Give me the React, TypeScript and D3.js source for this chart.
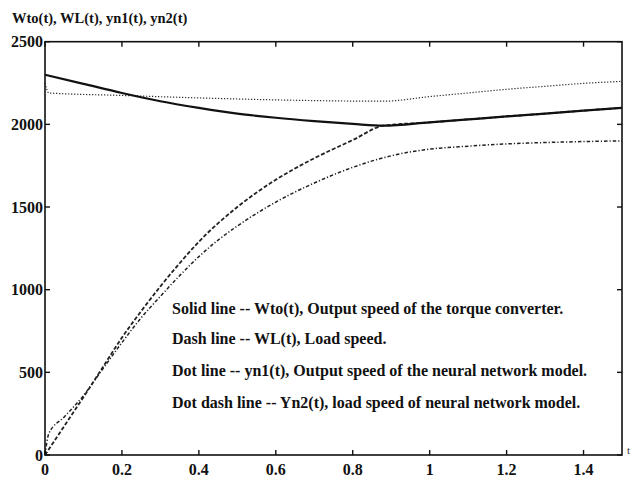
import React from "react";
import * as d3 from "d3";

const W = 632;
const H = 480;

const titleText = "Wto(t), WL(t), yn1(t), yn2(t)";
const xTicks = [0, 0.2, 0.4, 0.6, 0.8, 1, 1.2, 1.4];
const xTickLabels = ["0", "0.2", "0.4", "0.6", "0.8", "1", "1.2", "1.4"];
const yTicks = [0, 500, 1000, 1500, 2000, 2500];
const yTickLabels = ["0", "500", "1000", "1500", "2000", "2500"];

// Solid line: Wto(t)
const tWto = [0, 0.1, 0.2, 0.3, 0.4, 0.5, 0.6, 0.7, 0.8, 0.88, 1.0, 1.1, 1.2, 1.3, 1.4, 1.5];
const wto = [2300, 2245, 2190, 2140, 2100, 2065, 2040, 2020, 2003, 1992, 2012, 2030, 2048, 2065, 2083, 2100];

// Dash line: WL(t)
const tWL = [0, 0.05, 0.1, 0.15, 0.2, 0.25, 0.3, 0.35, 0.4, 0.5, 0.6, 0.7, 0.8, 0.88, 1.0, 1.1, 1.2, 1.3, 1.4, 1.5];
const wl = [0, 175, 350, 530, 710, 870, 1020, 1160, 1290, 1500, 1665, 1795, 1905, 1992, 2012, 2030, 2048, 2065, 2083, 2100];

// Dot line: yn1(t)
const tYn1 = [0, 0.01, 0.2, 0.4, 0.6, 0.88, 1.0, 1.1, 1.2, 1.3, 1.4, 1.5];
const yn1 = [2250, 2190, 2175, 2160, 2148, 2140, 2168, 2190, 2212, 2230, 2248, 2260];

// Dot dash line: yn2(t)
const tYn2 = [0, 0.01, 0.05, 0.1, 0.15, 0.2, 0.25, 0.3, 0.35, 0.4, 0.45, 0.5, 0.6, 0.7, 0.8, 0.9, 1.0, 1.1, 1.2, 1.3, 1.4, 1.5];
const yn2 = [0, 130, 230, 360, 520, 680, 830, 960, 1085, 1200, 1300, 1385, 1530, 1645, 1740, 1810, 1850, 1868, 1882, 1890, 1896, 1900];

const legendLines = [
  "Solid line -- Wto(t), Output speed of the torque converter.",
  "Dash line -- WL(t), Load speed.",
  "Dot line -- yn1(t), Output speed of the neural network model.",
  "Dot dash line -- Yn2(t), load speed of neural network model.",
];

export default function App() {
  const left = 45, right = 622, top = 41.7, bottom = 455;
  const x = d3.scaleLinear().domain([0, 1.5]).range([left, right]);
  const y = d3.scaleLinear().domain([0, 2500]).range([bottom, top]);

  const mk = (ts: number[], vs: number[]) =>
    d3
      .line<number>()
      .x((_, i) => x(ts[i]))
      .y((v) => y(v))
      .curve(d3.curveMonotoneX)(vs) as string;

  const ff = "Liberation Serif, Times New Roman, serif";
  const tickLen = 5;

  return (
    <svg
      width={W}
      height={H}
      style={{ position: "absolute", left: 0, top: 0, background: "#fff", fontFamily: ff }}
    >
      <rect x={0} y={0} width={W} height={H} fill="#fff" />
      <text x={12} y={23} fontSize={14.5} fontWeight="bold" fill="#111" style={{ fontFamily: ff }}>
        {titleText}
      </text>

      {/* series */}
      <path d={mk(tYn1, yn1)} fill="none" stroke="#333" strokeWidth={1.2} strokeDasharray="1.3,1.7" />
      <path d={mk(tYn2, yn2)} fill="none" stroke="#222" strokeWidth={1.5} strokeDasharray="3.5,2,1.2,2" />
      <path d={mk(tWL, wl)} fill="none" stroke="#222" strokeWidth={1.8} strokeDasharray="4,2" />
      <path d={mk(tWto, wto)} fill="none" stroke="#111" strokeWidth={2.2} />

      {/* frame */}
      <rect x={left} y={top} width={right - left} height={bottom - top} fill="none" stroke="#111" strokeWidth={1.6} />

      {/* x ticks */}
      {xTicks.map((t, i) => (
        <g key={"x" + i}>
          <line x1={x(t)} x2={x(t)} y1={bottom} y2={bottom - tickLen} stroke="#111" strokeWidth={1.4} />
          <line x1={x(t)} x2={x(t)} y1={top} y2={top + tickLen} stroke="#111" strokeWidth={1.4} />
          <text x={x(t)} y={475} fontSize={16} fontWeight="bold" textAnchor="middle" fill="#111" style={{ fontFamily: ff }}>
            {xTickLabels[i]}
          </text>
        </g>
      ))}

      {/* y ticks */}
      {yTicks.map((v, i) => (
        <g key={"y" + i}>
          <line x1={left} x2={left + tickLen} y1={y(v)} y2={y(v)} stroke="#111" strokeWidth={1.4} />
          <line x1={right} x2={right - tickLen} y1={y(v)} y2={y(v)} stroke="#111" strokeWidth={1.4} />
          <text x={43} y={y(v) + 5.5} fontSize={16} fontWeight="bold" textAnchor="end" fill="#111" style={{ fontFamily: ff }}>
            {yTickLabels[i]}
          </text>
        </g>
      ))}

      {/* t label */}
      <text x={627} y={454} fontSize={11} fill="#333" style={{ fontFamily: ff }}>
        t
      </text>

      {/* legend text */}
      {legendLines.map((s, i) => (
        <text
          key={"l" + i}
          x={172}
          y={[314, 344, 376, 408][i]}
          fontSize={16}
          fontWeight="bold"
          fill="#111"
          style={{ fontFamily: ff }}
        >
          {s}
        </text>
      ))}
    </svg>
  );
}
